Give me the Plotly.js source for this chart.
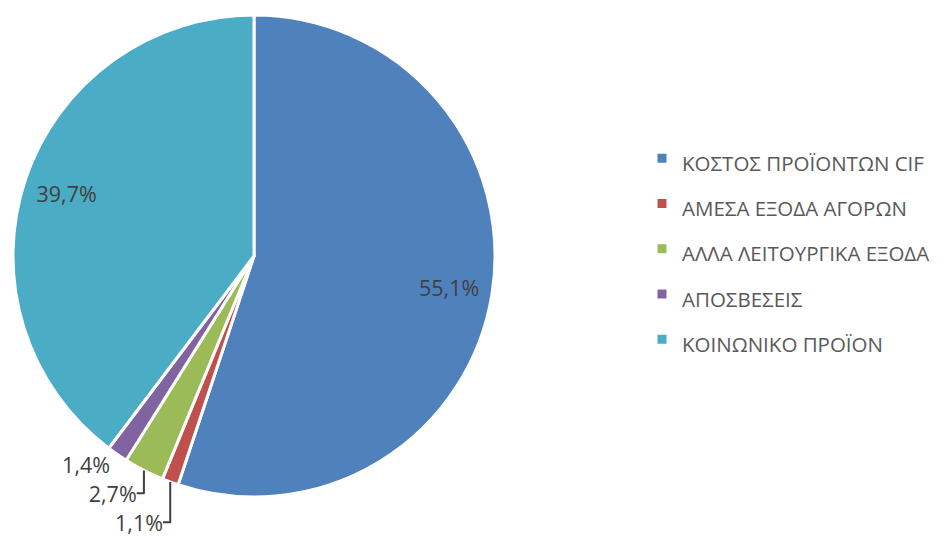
<!DOCTYPE html>
<html>
<head>
<meta charset="utf-8">
<script src="https://cdn.plot.ly/plotly-3.0.1.min.js"></script>
<style>html,body{margin:0;padding:0;background:#fff;}</style>
</head>
<body>
<div id="chart" style="width:944px;height:536px;"></div>
<script>
const categories = ["ΚΟΣΤΟΣ ΠΡΟΪΟΝΤΩΝ CIF", "ΑΜΕΣΑ ΕΞΟΔΑ ΑΓΟΡΩΝ", "ΑΛΛΑ ΛΕΙΤΟΥΡΓΙΚΑ ΕΞΟΔΑ", "ΑΠΟΣΒΕΣΕΙΣ", "ΚΟΙΝΩΝΙΚΟ ΠΡΟΪΟΝ"];
const shares = [55.1, 1.1, 2.7, 1.4, 39.7];
const colors = ["#4F81BD", "#C0504D", "#9BBB59", "#8064A2", "#4BACC6"];
const textPositions = ["inside", "outside", "outside", "outside", "inside"];

const W = 944, H = 536;
const FONT = "Open Sans, sans-serif";
const domain = {x: [13 / W, 495 / W], y: [1 - 497 / H, 1 - 15 / H]};

// Main pie: slices + legend
const pieTrace = {
  type: "pie",
  labels: categories.map(c => '<span style="font-size:20.5px">' + c + '</span>'),
  values: shares,
  sort: false,
  direction: "clockwise",
  rotation: 0,
  marker: {colors: colors, line: {color: "#ffffff", width: 3}},
  textinfo: "none",
  domain: domain,
  automargin: false
};
// Label ring: same data, transparent, places percentage labels nearer the rim
const labelTrace = {
  type: "pie",
  labels: categories,
  values: shares,
  sort: false,
  direction: "clockwise",
  rotation: 0,
  hole: 0.64,
  showlegend: false,
  marker: {colors: categories.map(() => "rgba(0,0,0,0)"), line: {width: 0}},
  texttemplate: "%{percent:.1%}",
  textposition: textPositions,
  insidetextorientation: "horizontal",
  textfont: {family: FONT, size: 21.5, color: "#404040"},
  outsidetextfont: {family: FONT, size: 21.5, color: "#404040"},
  domain: domain,
  automargin: false
};
const layout = {
  width: W, height: H,
  margin: {l: 0, r: 0, t: 0, b: 0},
  paper_bgcolor: "#ffffff",
  separators: ",.",
  showlegend: true,
  legend: {
    x: 642 / W, xanchor: "left",
    y: 1 - 249 / H, yanchor: "middle",
    font: {family: FONT, size: 32.5, color: "#595959"},
    itemclick: false
  },
  font: {family: FONT, color: "#404040"}
};
Plotly.newPlot("chart", [pieTrace, labelTrace], layout, {displayModeBar: false, staticPlot: true});
</script>
</body>
</html>
